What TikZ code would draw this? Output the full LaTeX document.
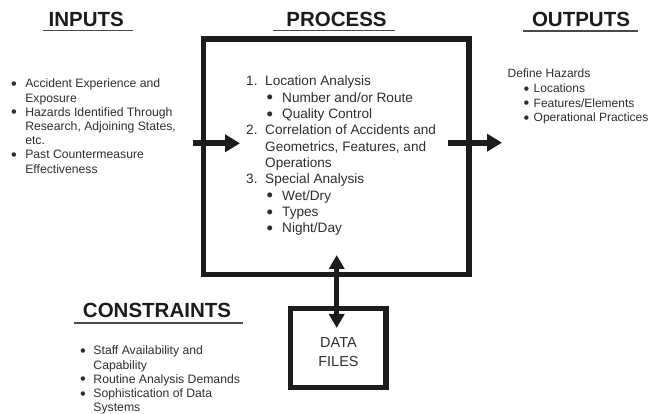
\documentclass[tikz,border=0pt]{standalone}
\usepackage{graphicx}
\usepackage{fontspec}
\setmainfont{Liberation Sans}
\usetikzlibrary{arrows.meta}
\definecolor{ink}{HTML}{1C1C1C}
\definecolor{txt}{HTML}{2E2E2E}
% a slightly enlarged bullet, kept at the same height, in a box of the given width
\newcommand{\blt}[1]{\makebox[#1][l]{\raisebox{-0.125em}{\scalebox{1.35}{\textbullet}}}}
\begin{document}
\begin{tikzpicture}[x=1pt,y=-1pt,
  heading/.style={anchor=base,inner sep=0pt,text=ink,
    font=\fontsize{20.5}{24}\bfseries\selectfont},
  rule/.style={draw=ink!80,line width=1.3pt},
  frame/.style={draw=ink,line width=5.5pt,inner sep=0pt,outer sep=0pt},
  list/.style={anchor=base west,inner sep=0pt,text=txt},
  flow/.style={draw=ink,line width=6pt,-{Triangle[length=15pt,width=17pt]}},
  link/.style={draw=ink,line width=5.5pt,
    {Triangle[length=14pt,width=15pt]}-{Triangle[length=14pt,width=15pt]}},
]
\useasboundingbox[fill=white] (0,0) rectangle (662,414);

% headings and their rules
\node[heading] (hIn)  at (86.2,26.7)  {INPUTS};
\node[heading] (hPro) at (336.5,26.7) {PROCESS};
\node[heading] (hOut) at (581,26.6)   {OUTPUTS};
\node[heading] (hCon) at (157,318)    {CONSTRAINTS};
\draw[rule] (43,30.8) -- (133,30.8);
\draw[rule] (273,30.8) -- (395,30.8);
\draw[rule] (523,31) -- (638,31);
\draw[rule] (74,323) -- (243,323);

% process box and data files box
\node[frame,minimum width=265.5pt,minimum height=235.5pt] (proc) at (336.25,156.75) {};
\node[frame,minimum width=95.5pt,minimum height=79pt] (files) at (338.25,348) {};
\node[anchor=base,inner sep=0pt,text=txt,font=\fontsize{14.5}{19}\selectfont] (filesText)
  at (338.5,348) {\begin{tabular}[t]{@{}c@{}}DATA\\FILES\end{tabular}};

% inputs
\node[list,font=\fontsize{12.2}{14.2}\selectfont] (inputs) at (10.8,88) {%
\begin{tabular}[t]{@{}l@{}}
\blt{14.3pt}Accident Experience and\\
\hspace{14.3pt}Exposure\\
\blt{14.3pt}Hazards Identified Through\\
\hspace{14.3pt}Research, Adjoining States,\\
\hspace{14.3pt}etc.\\
\blt{14.3pt}Past Countermeasure\\
\hspace{14.3pt}Effectiveness
\end{tabular}};

% process steps
\node[list,font=\fontsize{13.6}{16.3}\selectfont] (steps) at (246,86) {%
\begin{tabular}[t]{@{}l@{}}
\makebox[19pt][l]{1.}Location Analysis\\
\hspace{20.5pt}\blt{15.5pt}Number and/or Route\\
\hspace{20.5pt}\blt{15.5pt}Quality Control\\
\makebox[19pt][l]{2.}Correlation of Accidents and\\
\hspace{19pt}Geometrics, Features, and\\
\hspace{19pt}Operations\\
\makebox[19pt][l]{3.}Special Analysis\\
\hspace{20.5pt}\blt{15.5pt}Wet/Dry\\
\hspace{20.5pt}\blt{15.5pt}Types\\
\hspace{20.5pt}\blt{15.5pt}Night/Day
\end{tabular}};

% outputs
\node[list,font=\fontsize{12}{14.6}\selectfont] (outputs) at (507.5,78) {%
\begin{tabular}[t]{@{}l@{}}
Define Hazards\\
\hspace{16pt}\blt{10pt}Locations\\
\hspace{16pt}\blt{10pt}Features/Elements\\
\hspace{16pt}\blt{10pt}Operational Practices
\end{tabular}};

% constraints
\node[list,font=\fontsize{12.2}{14.2}\selectfont] (constraints) at (80,355) {%
\begin{tabular}[t]{@{}l@{}}
\blt{13.3pt}Staff Availability and\\
\hspace{13.3pt}Capability\\
\blt{13.3pt}Routine Analysis Demands\\
\blt{13.3pt}Sophistication of Data\\
\hspace{13.3pt}Systems
\end{tabular}};

% flows into and out of the process
\coordinate (inTail)  at (192.5,143.3);
\coordinate (inHead)  at (240,143.3);
\coordinate (outTail) at (448,142.7);
\coordinate (outHead) at (502,142.7);
\coordinate (procEnd) at (336.7,255);
\coordinate (fileEnd) at (336.7,328);
\draw[flow] (inTail) -- (inHead);
\draw[flow] (outTail) -- (outHead);
\draw[link] (procEnd) -- (fileEnd);
\end{tikzpicture}
\end{document}
